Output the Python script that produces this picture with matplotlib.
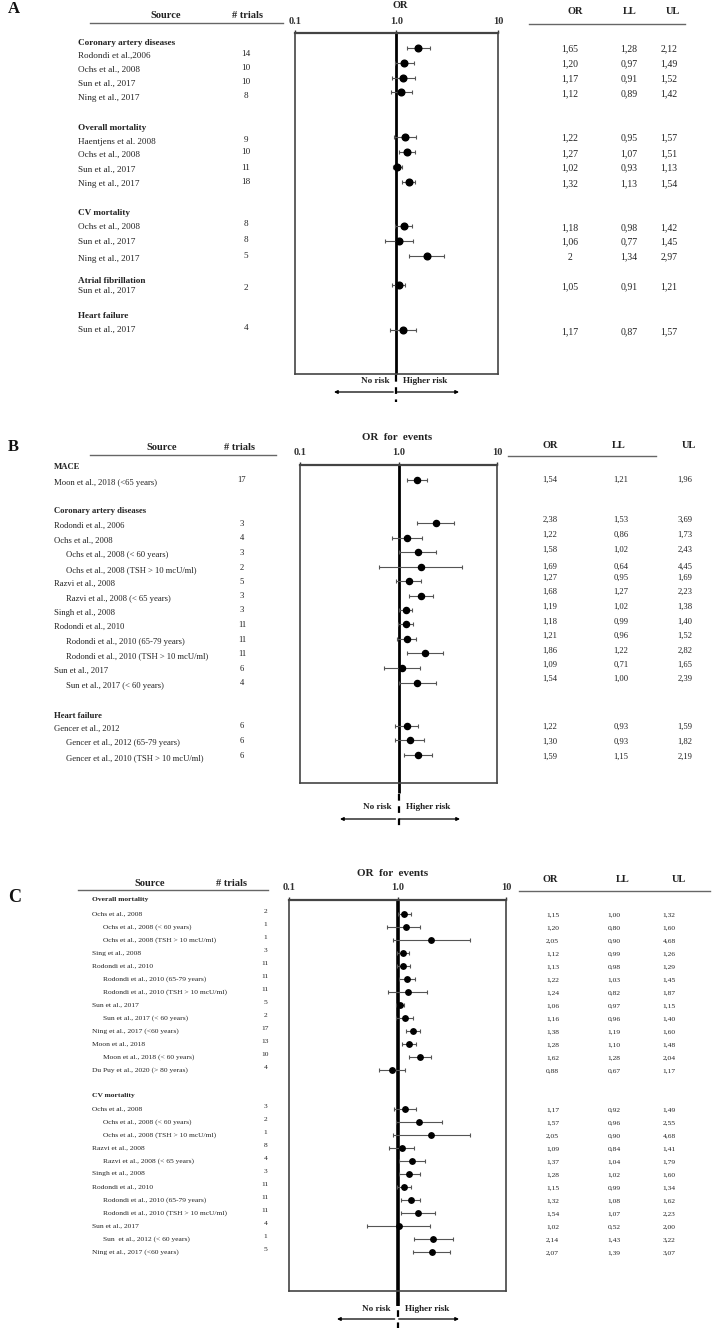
import numpy as np
import matplotlib.pyplot as plt
from matplotlib.ticker import NullLocator

plt.rcParams['font.family'] = ['Liberation Serif', 'DejaVu Serif']

W, H = 712, 1328

# ---------------- panel A data
a_headers = ["Coronary artery diseases", "Overall mortality", "CV mortality",
             "Atrial fibrillation", "Heart failure"]
a_labels = ["Rodondi et al.,2006", "Ochs et al., 2008", "Sun et al., 2017", "Ning et al., 2017",
            "Haentjens et al. 2008", "Ochs et al., 2008", "Sun et al., 2017", "Ning et al., 2017",
            "Ochs et al., 2008", "Sun et al., 2017", "Ning et al., 2017",
            "Sun et al., 2017",
            "Sun et al., 2017"]
a_trials = [14, 10, 10, 8, 9, 10, 11, 18, 8, 8, 5, 2, 4]
a_or = [1.65, 1.20, 1.17, 1.12, 1.22, 1.27, 1.02, 1.32, 1.18, 1.06, 2.0, 1.05, 1.17]
a_ll = [1.28, 0.97, 0.91, 0.89, 0.95, 1.07, 0.93, 1.13, 0.98, 0.77, 1.34, 0.91, 0.87]
a_ul = [2.12, 1.49, 1.52, 1.42, 1.57, 1.51, 1.13, 1.54, 1.42, 1.45, 2.97, 1.21, 1.57]

# ---------------- panel B data
b_headers = ["MACE", "Coronary artery diseases", "Heart failure"]
b_labels = ["Moon et al., 2018 (<65 years)",
            "Rodondi et al., 2006", "Ochs et al., 2008", "Ochs et al., 2008 (< 60 years)",
            "Ochs et al., 2008 (TSH > 10 mcU/ml)", "Razvi et al., 2008",
            "Razvi et al., 2008 (< 65 years)", "Singh et al., 2008", "Rodondi et al., 2010",
            "Rodondi et al., 2010 (65-79 years)", "Rodondi et al., 2010 (TSH > 10 mcU/ml)",
            "Sun et al., 2017", "Sun et al., 2017 (< 60 years)",
            "Gencer et al., 2012", "Gencer et al., 2012 (65-79 years)",
            "Gencer et al., 2010 (TSH > 10 mcU/ml)"]
b_trials = [17, 3, 4, 3, 2, 5, 3, 3, 11, 11, 11, 6, 4, 6, 6, 6]
b_or = [1.54, 2.38, 1.22, 1.58, 1.69, 1.27, 1.68, 1.19, 1.18, 1.21, 1.86, 1.09, 1.54, 1.22, 1.30, 1.59]
b_ll = [1.21, 1.53, 0.86, 1.02, 0.64, 0.95, 1.27, 1.02, 0.99, 0.96, 1.22, 0.71, 1.00, 0.93, 0.93, 1.15]
b_ul = [1.96, 3.69, 1.73, 2.43, 4.45, 1.69, 2.23, 1.38, 1.40, 1.52, 2.82, 1.65, 2.39, 1.59, 1.82, 2.19]

# ---------------- panel C data
c_headers = ["Overall mortality", "CV mortality"]
c_labels = ["Ochs et al., 2008", "Ochs et al., 2008 (< 60 years)", "Ochs et al., 2008 (TSH > 10 mcU/ml)",
            "Sing et al., 2008", "Rodondi et al., 2010", "Rodondi et al., 2010 (65-79 years)",
            "Rodondi et al., 2010 (TSH > 10 mcU/ml)", "Sun et al., 2017", "Sun et al., 2017 (< 60 years)",
            "Ning et al., 2017 (<60 years)", "Moon et al., 2018", "Moon et al., 2018 (< 60 years)",
            "Du Puy et al., 2020 (> 80 yeras)",
            "Ochs et al., 2008", "Ochs et al., 2008 (< 60 years)", "Ochs et al., 2008 (TSH > 10 mcU/ml)",
            "Razvi et al., 2008", "Razvi et al., 2008 (< 65 years)", "Singh et al., 2008",
            "Rodondi et al., 2010", "Rodondi et al., 2010 (65-79 years)",
            "Rodondi et al., 2010 (TSH > 10 mcU/ml)", "Sun et al., 2017",
            "Sun  et al., 2012 (< 60 years)", "Ning et al., 2017 (<60 years)"]
c_trials = [2, 1, 1, 3, 11, 11, 11, 5, 2, 17, 13, 10, 4,
            3, 2, 1, 8, 4, 3, 11, 11, 11, 4, 1, 5]
c_or = [1.15, 1.20, 2.05, 1.12, 1.13, 1.22, 1.24, 1.06, 1.16, 1.38, 1.28, 1.62, 0.88,
        1.17, 1.57, 2.05, 1.09, 1.37, 1.28, 1.15, 1.32, 1.54, 1.02, 2.14, 2.07]
c_ll = [1.00, 0.80, 0.90, 0.99, 0.98, 1.03, 0.82, 0.97, 0.96, 1.19, 1.10, 1.28, 0.67,
        0.92, 0.96, 0.90, 0.84, 1.04, 1.02, 0.99, 1.08, 1.07, 0.52, 1.43, 1.39]
c_ul = [1.32, 1.60, 4.68, 1.26, 1.29, 1.45, 1.87, 1.15, 1.40, 1.60, 1.48, 2.04, 1.17,
        1.49, 2.55, 4.68, 1.41, 1.79, 1.60, 1.34, 1.62, 2.23, 2.00, 3.22, 3.07]

# ---------------- layout (pixels, y from top)
a_head_y = [43, 128, 213, 281, 316]
a_lab_y = [56, 70, 84, 98, 142, 155, 170, 184, 227, 242, 259, 291, 330]
a_mark_y = [47.7, 62.7, 77.7, 92, 136.7, 152, 166.7, 182, 226, 240.7, 255.7, 285.3, 330]

b_head_y = [467, 511, 716]
b_mark_y = [480, 523.3, 537.7, 552.3, 567, 581, 595.7, 610, 624.3, 639.3, 653.3, 668.3, 682.7,
            726, 740.3, 755]
b_val_y = [480, 520, 535.3, 549.7, 567.3, 578.3, 592.3, 607.3, 622, 636, 650.7, 665, 679.3,
           726.7, 742.3, 757.3]
b_indent = [0, 0, 0, 1, 1, 0, 1, 0, 0, 1, 1, 0, 1, 0, 1, 1]

c_head_y = [900, 1096]
c_mark_y = list(914 + 13 * np.arange(13)) + list(1109 + 13 * np.arange(12))
c_indent = [0, 1, 1, 0, 0, 1, 1, 0, 1, 0, 0, 1, 0,
            0, 1, 1, 0, 1, 0, 0, 1, 1, 0, 1, 0]

TXT = '#222222'

fig = plt.figure(figsize=(W / 100, H / 100), dpi=100)
bg = fig.add_axes([0, 0, 1, 1])
bg.set_xlim(0, W)
bg.set_ylim(H, 0)
bg.axis('off')


def fmt(v):
    return ('%.2f' % v).replace('.', ',')


def forest(box, ors, lls, uls, ys, ms, ref_lw, tick_pad, ref_ext):
    x0, y0, x1, y1 = box
    ax = fig.add_axes([x0 / W, 1 - y1 / H, (x1 - x0) / W, (y1 - y0) / H])
    ax.patch.set_alpha(0)
    ax.set_xscale('log')
    ax.set_xlim(0.1, 10)
    ax.set_ylim(y1, y0)
    ors = np.array(ors)
    err = [ors - np.array(lls), np.array(uls) - ors]
    ax.plot([1, 1], [y0, ref_ext], color='black', lw=ref_lw, zorder=1, clip_on=False,
            solid_capstyle='butt')
    ax.errorbar(ors, ys, xerr=err, fmt='o', ms=ms, mfc='black', mec='black',
                ecolor='#555555', elinewidth=0.8, capsize=1.6, capthick=0.8, zorder=3)
    ax.xaxis.tick_top()
    ax.set_xticks([0.1, 1, 10])
    ax.set_xticklabels(['0.1', '1.0', '10'], fontweight='bold', fontsize=7.5)
    ax.xaxis.set_minor_locator(NullLocator())
    ax.tick_params(axis='x', length=2, width=1, pad=tick_pad, colors='#333333')
    ax.set_yticks([])
    for s in ax.spines.values():
        s.set_color('#444444')
        s.set_linewidth(1.2)
    ax.spines['top'].set_linewidth(1.6)
    return ax


def risk_arrows(xc, y_dash0, y_dash1, y_txt, y_arr, xl, xr, fs):
    bg.plot([xc, xc], [y_dash0, y_dash1], color='black', lw=1.6, ls=(0, (3, 2.5)))
    bg.text(xc - 7, y_txt, 'No risk', ha='right', va='center', fontsize=fs, fontweight='bold', color=TXT)
    bg.text(xc + 7, y_txt, 'Higher risk', ha='left', va='center', fontsize=fs, fontweight='bold', color=TXT)
    ap = dict(arrowstyle='-|>', lw=0.9, color='black', mutation_scale=5, shrinkA=0, shrinkB=0)
    bg.annotate('', xy=(xl, y_arr), xytext=(xc - 3, y_arr), arrowprops=ap)
    bg.annotate('', xy=(xr, y_arr), xytext=(xc + 1, y_arr), arrowprops=ap)


# ================= Panel A
bg.text(8, 9, 'A', fontsize=12, fontweight='bold', va='center', ha='left', color='#111111')
bg.text(166, 15, 'Source', fontsize=7.5, fontweight='bold', ha='center', va='center', color=TXT)
bg.text(247, 15, '# trials', fontsize=7.5, fontweight='bold', ha='center', va='center', color=TXT)
bg.plot([90, 283], [22.5, 22.5], color='#666666', lw=1)
bg.text(400, 6, 'OR', fontsize=7.5, fontweight='bold', ha='center', va='center', color=TXT)
for x, t in zip([575, 630, 673], ['OR', 'LL', 'UL']):
    bg.text(x, 11, t, fontsize=7.5, fontweight='bold', ha='center', va='center', color=TXT)
bg.plot([529, 685], [23.5, 23.5], color='#666666', lw=1)
for t, y in zip(a_headers, a_head_y):
    bg.text(78, y, t, fontsize=6.6, fontweight='bold', ha='left', va='center', color=TXT)
a_or_txt = [fmt(v) for v in a_or]
a_or_txt[10] = '2'
for i in range(len(a_labels)):
    bg.text(78, a_lab_y[i], a_labels[i], fontsize=6.6, ha='left', va='center', color=TXT)
    bg.text(246, a_lab_y[i] - 2.5, str(a_trials[i]), fontsize=6.6, ha='center', va='center', color=TXT)
    vy = a_mark_y[i] + 1.5
    bg.text(570, vy, a_or_txt[i], fontsize=7, ha='center', va='center', color=TXT)
    bg.text(629, vy, fmt(a_ll[i]), fontsize=7, ha='center', va='center', color=TXT)
    bg.text(669, vy, fmt(a_ul[i]), fontsize=7, ha='center', va='center', color=TXT)
forest((294.7, 32.7, 498, 374), a_or, a_ll, a_ul, a_mark_y, 4.8, 2.0, 3.0, 374)
risk_arrows(396.3, 375, 402, 381, 392, 334, 459, 6.6)

# ================= Panel B
bg.text(8, 447, 'B', fontsize=12, fontweight='bold', va='center', ha='left', color='#111111')
bg.text(162, 448, 'Source', fontsize=7.5, fontweight='bold', ha='center', va='center', color=TXT)
bg.text(240, 448, '# trials', fontsize=7.5, fontweight='bold', ha='center', va='center', color=TXT)
bg.plot([90, 276], [455, 455], color='#666666', lw=1)
bg.text(397, 438, 'OR  for  events', fontsize=7.8, fontweight='bold', ha='center', va='center', color=TXT)
for x, t in zip([550, 619, 689], ['OR', 'LL', 'UL']):
    bg.text(x, 445, t, fontsize=7.5, fontweight='bold', ha='center', va='center', color=TXT)
bg.plot([508, 656], [456, 456], color='#666666', lw=1)
for t, y in zip(b_headers, b_head_y):
    bg.text(54, y, t, fontsize=6.2, fontweight='bold', ha='left', va='center', color=TXT)
for i in range(len(b_labels)):
    x = 54 + 12.5 * b_indent[i]
    bg.text(x, b_mark_y[i] + 3, b_labels[i], fontsize=6.2, ha='left', va='center', color=TXT)
    bg.text(242, b_mark_y[i] + 0.5, str(b_trials[i]), fontsize=6.2, ha='center', va='center', color=TXT)
    bg.text(550, b_val_y[i], fmt(b_or[i]), fontsize=6.2, ha='center', va='center', color=TXT)
    bg.text(621, b_val_y[i], fmt(b_ll[i]), fontsize=6.2, ha='center', va='center', color=TXT)
    bg.text(685, b_val_y[i], fmt(b_ul[i]), fontsize=6.2, ha='center', va='center', color=TXT)
forest((300, 465, 497, 783), b_or, b_ll, b_ul, b_mark_y, 4.4, 2.0, 3.5, 793)
risk_arrows(398.5, 794, 828, 807, 819, 340, 460, 6.6)

# ================= Panel C
bg.text(8, 898, 'C', fontsize=13, fontweight='bold', va='center', ha='left', color='#111111')
bg.text(150, 883, 'Source', fontsize=7.5, fontweight='bold', ha='center', va='center', color=TXT)
bg.text(232, 883, '# trials', fontsize=7.5, fontweight='bold', ha='center', va='center', color=TXT)
bg.plot([78, 268], [890, 890], color='#666666', lw=1)
bg.text(393, 873, 'OR  for  events', fontsize=8, fontweight='bold', ha='center', va='center', color=TXT)
for x, t in zip([550, 623, 679], ['OR', 'LL', 'UL']):
    bg.text(x, 879, t, fontsize=7.5, fontweight='bold', ha='center', va='center', color=TXT)
bg.plot([519, 710], [890.7, 890.7], color='#666666', lw=1)
for t, y in zip(c_headers, c_head_y):
    bg.text(92, y, t, fontsize=5.4, fontweight='bold', ha='left', va='center', color=TXT)
for i in range(len(c_labels)):
    x = 92 + 11 * c_indent[i]
    bg.text(x, c_mark_y[i], c_labels[i], fontsize=5.4, ha='left', va='center', color=TXT)
    bg.text(265.5, c_mark_y[i] - 2.5, str(c_trials[i]), fontsize=5.4, ha='center', va='center', color=TXT)
    bg.text(552.7, c_mark_y[i] + 0.5, fmt(c_or[i]), fontsize=5.4, ha='center', va='center', color=TXT)
    bg.text(614.3, c_mark_y[i] + 0.5, fmt(c_ll[i]), fontsize=5.4, ha='center', va='center', color=TXT)
    bg.text(669, c_mark_y[i] + 0.5, fmt(c_ul[i]), fontsize=5.4, ha='center', va='center', color=TXT)
forest((289.3, 900.3, 506, 1291), c_or, c_ll, c_ul, c_mark_y, 3.9, 2.6, 3.8, 1306)
risk_arrows(397.7, 1298, 1328, 1309, 1319, 337, 459, 6.6)

fig.savefig('out.png', dpi=100, facecolor='white')
